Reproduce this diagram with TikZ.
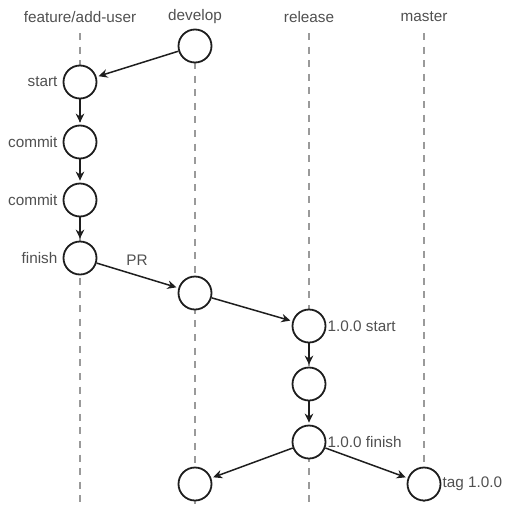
\documentclass[tikz,border=0pt]{standalone}
\usepackage{fontspec}
\setmainfont{Liberation Sans}
\usetikzlibrary{arrows.meta}
\definecolor{lanegray}{HTML}{9A9A9A}
\definecolor{textgray}{HTML}{505050}
\definecolor{inkcol}{HTML}{1E1E1E}
\begin{document}
\begin{tikzpicture}[x=1pt,y=-1pt,
  commitnode/.style={circle,draw=inkcol,line width=1.8pt,fill=white,minimum size=33pt,inner sep=0pt},
  lane/.style={draw=lanegray,line width=1.6pt,dash pattern=on 7pt off 6.6pt},
  lanehead/.style={text=textgray,font=\fontsize{15.3}{17}\selectfont},
  tag/.style={text=textgray,font=\fontsize{15.3}{17}\selectfont,inner sep=1pt},
  flow/.style={draw=inkcol,line width=1.5pt,-{Stealth[length=9pt,width=8.5pt]},shorten >=2pt}]
\useasboundingbox (0,0) rectangle (513,506);

% lane headers
\node[lanehead] (hfeat) at (80,17) {feature/add-user};
\node[lanehead] (hdev) at (195,17) {develop};
\node[lanehead] (hrel) at (309,17) {release};
\node[lanehead] (hmas) at (424,17) {master};

% lane end points
\coordinate (featT) at (80,33);  \coordinate (featB) at (80,506);
\coordinate (devT)  at (195,62); \coordinate (devB)  at (195,506);
\coordinate (relT)  at (309,33); \coordinate (relB)  at (309,506);
\coordinate (masT)  at (424,33); \coordinate (masB)  at (424,506);

\draw[lane] (featT) -- (featB);
\draw[lane] (devT) -- (devB);
\draw[lane] (relT) -- (relB);
\draw[lane] (masT) -- (masB);

% commits
\node[commitnode] (d0) at (195,46) {};
\node[commitnode] (f1) at (80,82) {};
\node[commitnode] (f2) at (80,142) {};
\node[commitnode] (f3) at (80,200) {};
\node[commitnode] (f4) at (80,258) {};
\node[commitnode] (d1) at (195,293) {};
\node[commitnode] (r1) at (309,326) {};
\node[commitnode] (r2) at (309,384) {};
\node[commitnode] (r3) at (309,442) {};
\node[commitnode] (d2) at (195,484) {};
\node[commitnode] (m1) at (424,484) {};

% labels
\node[tag,anchor=east,xshift=-4pt] (lstart) at (f1.west) {start};
\node[tag,anchor=east,xshift=-4pt] (lc1) at (f2.west) {commit};
\node[tag,anchor=east,xshift=-4pt] (lc2) at (f3.west) {commit};
\node[tag,anchor=east,xshift=-4pt] (lfin) at (f4.west) {finish};
\node[tag] (lpr) at (137,260) {PR};
\node[tag,anchor=west] (lrs) at (r1.east) {1.0.0 start};
\node[tag,anchor=west] (lrf) at (r3.east) {1.0.0 finish};
\node[tag,anchor=west] (ltag) at (m1.east) {tag 1.0.0};

% history
\draw[flow] (d0) -- (f1);
\draw[flow] (f1) -- (f2);
\draw[flow] (f2) -- (f3);
\draw[flow] (f3) -- (f4);
\draw[flow] (f4) -- (d1);
\draw[flow] (d1) -- (r1);
\draw[flow] (r1) -- (r2);
\draw[flow] (r2) -- (r3);
\draw[flow] (r3) -- (d2);
\draw[flow] (r3) -- (m1);
\end{tikzpicture}
\end{document}
